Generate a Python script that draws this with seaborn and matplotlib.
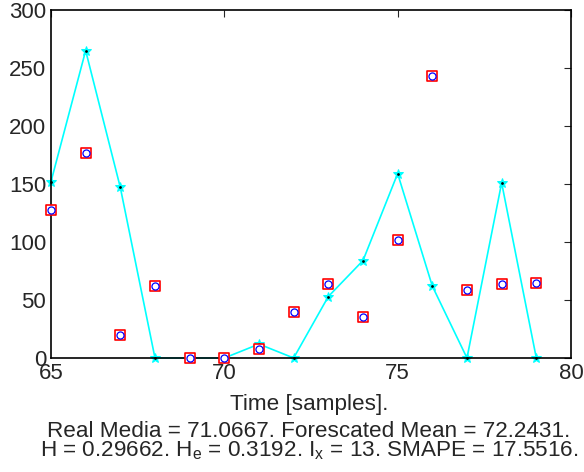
import pandas as pd
import matplotlib.pyplot as plt
import seaborn as sns

# samples and values
samples = [65, 66, 67, 68, 69, 70, 71, 72, 73, 74, 75, 76, 77, 78, 79]
real = [128, 177, 20, 62, 0, 0, 7.5, 40, 64, 35, 102, 243, 59, 63.5, 65]
forecast = [152, 265, 147, 0, 0, 0, 12, 0, 53, 84, 159, 62, 0, 151, 0]

x_ticks = [65, 70, 75, 80]
y_ticks = [0, 50, 100, 150, 200, 250, 300]

df = pd.DataFrame({'sample': samples, 'real': real, 'forecast': forecast})

sns.set_style('white')
plt.rcParams['font.family'] = ['Liberation Sans', 'DejaVu Sans']
plt.rcParams['mathtext.fontset'] = 'custom'
plt.rcParams['mathtext.rm'] = 'Liberation Sans'
plt.rcParams['mathtext.it'] = 'Liberation Sans'
plt.rcParams['xtick.direction'] = 'in'
plt.rcParams['ytick.direction'] = 'in'

fig = plt.figure(figsize=(5.84, 4.72), dpi=100)
ax = fig.add_axes([0.0873, 0.2415, 0.8904, 0.7373])

#Forecast line with stars
sns.lineplot(x='sample', y='forecast', data=df, ax=ax, color='cyan', lw=1.2,
             marker='*', markersize=7, markeredgecolor='cyan', markerfacecolor='cyan',
             clip_on=False)
sns.scatterplot(x='sample', y='forecast', data=df, ax=ax, color='black', s=4,
                linewidth=0, zorder=4, clip_on=False)

#Real values: red squares with blue circles
sns.scatterplot(x='sample', y='real', data=df, ax=ax, marker='s', s=48,
                facecolor='white', edgecolor='red', linewidth=1.2, zorder=5, clip_on=False)
sns.scatterplot(x='sample', y='real', data=df, ax=ax, marker='o', s=26,
                facecolor='white', edgecolor='blue', linewidth=0.9, zorder=6, clip_on=False)

ax.set_xlim(65, 80)
ax.set_ylim(0, 300)
ax.set_xticks(x_ticks)
ax.set_yticks(y_ticks)
ax.tick_params(labelsize=16, length=5, width=0.8, top=True, right=True, pad=3.5)
for s in ax.spines.values():
    s.set_linewidth(1.2)
    s.set_color('black')

ax.set_xlabel('')
ax.set_ylabel('')
fig.text(0.529, 0.131, 'Time [samples].', ha='center', va='baseline', fontsize=16.2)
fig.text(0.529, 0.075, 'Real Media = 71.0667. Forescated Mean = 72.2431.',
         ha='center', va='baseline', fontsize=16.2)
fig.text(0.529, 0.032, 'H = 0.29662. H$_{\\mathrm{e}}$ = 0.3192. I$_{\\mathrm{x}}$ = 13. SMAPE = 17.5516.',
         ha='center', va='baseline', fontsize=16.2)

fig.savefig('out.png', dpi=100)
